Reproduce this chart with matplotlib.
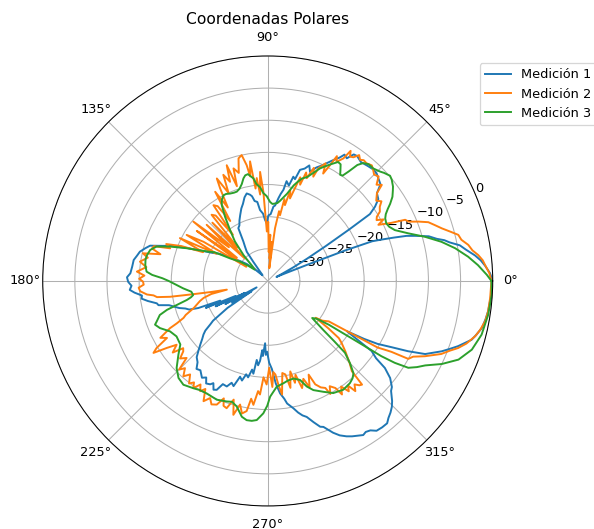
import numpy as np
import matplotlib
matplotlib.use("Agg")
import matplotlib.pyplot as plt

# Radiation pattern measurements (angle in degrees, normalised level in dB)
theta_m1 = [0, 2, 4, 5.5, 7, 9, 10.5, 12, 13, 14, 15.5, 17, 18, 19, 20, 20.8, 21.5, 22.3, 23.5, 25,
            26.5, 28, 29.5, 31, 32.3, 33.2, 34.7, 36.5, 38.8, 40.6, 42.4, 44.6, 46.4, 49.1, 51.9, 54.4,
            55.8, 57.2, 58.7, 59.8, 61.5, 63.4, 65, 66.8, 68.8, 70.2, 71.8, 73.8, 75, 76.2, 77.5, 79.3,
            80.2, 81.5, 82.6, 84.4, 85.6, 87.5, 89.4, 91, 92.5, 94, 96.2, 97.5, 99.3, 100.5, 101.6,
            103.5, 105.5, 107.8, 110, 112.7, 115, 117, 119.1, 121.7, 123.5, 125.6, 127, 129.4, 132, 135,
            138, 141, 144, 146, 148.5, 151, 153, 155.5, 158, 160, 161.5, 163.3, 165, 167.1, 169, 171.1,
            174, 176.8, 178.5, 180.4, 182, 183.7, 185, 186.6, 188, 189.5, 191.4, 192.5, 193.8, 195.5,
            197, 198.5, 200, 201.3, 202.5, 203.5, 205, 206, 207.5, 208.5, 210, 211.5, 212.5, 213.8,
            215.2, 216, 217.1, 218.5, 219.8, 221.5, 223.3, 225, 227, 229.2, 231, 233, 235.8, 237.5, 239,
            240.9, 242, 243.5, 244.9, 246.5, 248.8, 250.5, 252, 253.9, 255.5, 257, 258.5, 260, 261.2,
            262.1, 263.5, 264.5, 265.5, 266.3, 267.6, 268.5, 269.5, 271, 272.7, 274.5, 276.3, 278, 279,
            281.4, 283, 284.5, 286, 288, 289.8, 290.9, 292.5, 293.3, 295, 296.9, 298.5, 300, 301.8, 303,
            304.5, 306, 308, 310, 311.4, 313, 314.6, 316, 318.3, 319.5, 321.6, 323.4, 324.5, 326, 327.6,
            329, 330.2, 331.9, 333.4, 335.1, 336.5, 338, 339.5, 341.1, 343.9, 345.5, 347.6, 350, 352.2,
            356, 360]
db_m1 = [0.0, -0.4, -1.1, -1.7, -2.5, -3.8, -4.6, -6.1, -6.8, -7.9, -9.0, -11.0, -12.3, -14.3, -16.2,
         -17.6, -22.0, -28.5, -32.0, -33.5, -32.5, -30.5, -28.0, -24.5, -20.0, -16.0, -14.7, -13.6,
         -13.2, -11.9, -11.6, -11.2, -11.1, -11.3, -11.5, -11.1, -11.2, -12.3, -12.0, -12.8, -13.6,
         -14.5, -15.2, -15.8, -16.8, -15.9, -16.6, -17.0, -18.6, -18.3, -19.8, -19.2, -20.6, -21.3,
         -22.0, -23.2, -23.4, -24.6, -24.8, -26.0, -25.5, -24.5, -23.9, -22.6, -22.4, -21.6, -21.3,
         -21.0, -21.5, -22.4, -23.0, -23.9, -24.6, -25.3, -25.6, -27.8, -28.6, -29.4, -31.3, -33.1,
         -33.8, -33.4, -32.2, -30.8, -29.8, -29.0, -27.6, -26.2, -25.4, -23.6, -21.2, -19.0, -17.8,
         -15.9, -15.3, -14.6, -14.3, -13.9, -13.8, -13.6, -13.1, -13.3, -13.8, -13.5, -14.2, -15.3,
         -15.2, -16.1, -17.4, -17.6, -19.2, -20.0, -20.6, -21.5, -22.0, -23.4, -27.0, -24.5, -29.5,
         -26.0, -31.0, -27.5, -33.0, -28.5, -32.0, -27.5, -25.9, -24.5, -23.8, -22.6, -22.0, -21.4,
         -20.6, -19.8, -18.8, -18.3, -17.4, -17.6, -16.8, -17.2, -16.4, -16.6, -17.0, -16.1, -16.3,
         -17.5, -17.4, -18.2, -17.8, -19.5, -19.0, -20.1, -19.7, -21.0, -20.4, -22.6, -21.8, -22.5,
         -24.2, -23.3, -25.3, -23.5, -24.0, -22.3, -21.3, -19.0, -17.4, -16.5, -15.7, -14.8, -14.0,
         -13.4, -13.0, -11.9, -10.9, -10.7, -9.8, -9.3, -8.5, -7.9, -7.5, -7.2, -6.8, -7.0, -6.8,
         -6.2, -6.1, -6.1, -6.6, -7.0, -7.5, -8.1, -9.3, -9.6, -10.7, -12.3, -14.3, -15.5, -20.4,
         -17.5, -15.3, -13.1, -10.6, -8.0, -7.0, -5.8, -4.8, -3.7, -2.0, -1.5, -0.9, -0.6, -0.4,
         -0.2, 0.0]

theta_m2 = [0, 2, 4.2, 5.5, 7, 8.5, 10.2, 12, 13.6, 15, 16.8, 18.5, 20.1, 21.5, 22.8, 24, 25.2, 26.9,
            28, 29.2, 30.5, 31.7, 33.5, 35, 36.5, 38.8, 40.1, 41.5, 43.3, 45, 46.4, 48, 50, 51.5, 52.7,
            54, 55.3, 56.5, 57.5, 58.3, 60, 61, 61.7, 62.7, 63.8, 65.8, 66.4, 67.8, 69.2, 70.5, 71.4,
            72.6, 74, 74.9, 76, 77.2, 78.5, 79.4, 80.8, 82.1, 83, 84.2, 85.5, 86.8, 88, 89.5, 91, 92.8,
            94, 95, 96.1, 97.5, 98.4, 99.5, 100.3, 101.7, 103.4, 105, 106.9, 108, 109.5, 110.8, 112.7,
            114, 116.4, 117.2, 118.5, 120.5, 122, 123.8, 125.6, 127, 128.5, 130.3, 132, 133.5, 135.5,
            137.4, 139, 141.4, 143, 144.8, 146.5, 148.6, 150.4, 152, 154, 156, 158, 160, 161.5, 163,
            164.3, 166, 167.5, 169, 171.4, 173.5, 175.9, 177.5, 179, 180.3, 181.7, 183, 184.6, 186.4,
            187.2, 188.3, 189.2, 190, 191, 192, 193, 194.8, 196.5, 198.4, 200, 201.3, 202.5, 203.7, 205,
            205.8, 207, 207.9, 209.5, 211.1, 212.2, 213.6, 215, 217, 218.5, 219.8, 221.5, 223.5, 225,
            226.5, 228.5, 230.3, 232.5, 234, 235.2, 237, 238.5, 240, 241.9, 243.8, 245.5, 247.6, 249.5,
            250.5, 252.1, 254, 255.6, 257.4, 259, 260.8, 262, 263.4, 265, 266.1, 267.5, 269.4, 271,
            272.5, 273.5, 274.7, 276, 277.2, 279, 280.7, 282, 284, 285, 286.5, 287.8, 290, 291.5, 293.6,
            294.7, 296.5, 298.3, 299, 300.5, 302.3, 303.2, 304.8, 306.3, 307.5, 308.5, 310, 311.3,
            312.3, 313, 315, 317.8, 320, 321.2, 322, 322.5, 324, 326.5, 327.5, 328.2, 328.8, 329.5,
            330.2, 331, 332.5, 334.4, 336, 337.2, 339, 340.6, 342.5, 345.1, 347, 349.5, 352, 355.6, 360]
db_m2 = [-0.2, -0.5, -1.1, -1.4, -2.0, -2.8, -3.3, -4.2, -4.5, -5.5, -6.7, -7.6, -8.4, -9.8, -11.2,
         -11.6, -13.8, -15.7, -14.6, -15.6, -15.3, -14.5, -14.1, -13.4, -14.0, -13.2, -11.8, -12.4,
         -11.3, -11.6, -11.2, -10.8, -11.1, -11.0, -11.3, -10.8, -11.6, -11.8, -11.0, -12.6, -13.6,
         -12.8, -14.5, -16.2, -14.6, -15.8, -17.3, -16.0, -17.9, -17.1, -19.2, -18.1, -20.5, -21.7,
         -20.5, -22.9, -22.0, -24.6, -24.0, -26.7, -33.0, -28.9, -31.5, -27.8, -30.5, -25.8, -27.3,
         -21.1, -18.0, -21.5, -18.9, -20.5, -16.2, -18.5, -16.7, -15.0, -15.4, -17.6, -16.7, -19.5,
         -15.9, -18.5, -17.1, -20.0, -17.2, -18.8, -22.0, -18.9, -24.0, -21.0, -20.5, -26.0, -22.0,
         -21.5, -28.0, -22.5, -30.0, -22.1, -27.0, -20.2, -29.0, -21.5, -31.0, -23.3, -20.5, -26.0,
         -19.8, -24.0, -20.5, -18.2, -19.0, -16.5, -16.3, -17.8, -15.1, -16.0, -14.9, -16.0, -14.6,
         -15.8, -15.0, -15.6, -15.7, -14.9, -15.1, -16.1, -17.1, -17.6, -19.6, -23.0, -26.0, -28.5,
         -26.0, -24.7, -24.0, -23.4, -22.8, -22.0, -21.2, -20.7, -19.4, -18.1, -17.0, -16.1, -17.0,
         -14.8, -14.0, -16.2, -17.7, -16.5, -18.2, -17.9, -16.8, -17.6, -15.5, -16.3, -15.2, -16.1,
         -14.9, -15.5, -14.7, -15.8, -14.9, -15.6, -13.8, -14.7, -13.9, -14.2, -15.5, -14.4, -14.2,
         -15.8, -13.5, -15.3, -14.0, -14.5, -16.5, -15.6, -17.8, -17.3, -20.0, -18.9, -21.5, -18.5,
         -20.8, -20.4, -18.6, -17.2, -20.5, -20.2, -18.0, -20.5, -18.6, -19.8, -17.5, -18.8, -17.2,
         -19.1, -17.3, -16.5, -16.1, -14.9, -16.0, -15.3, -13.9, -15.0, -13.7, -14.5, -13.1, -14.0,
         -13.4, -13.2, -15.8, -17.0, -18.7, -20.0, -20.8, -23.0, -25.6, -24.5, -23.6, -21.0, -18.5,
         -15.0, -14.0, -12.8, -10.0, -9.5, -7.9, -6.7, -5.7, -4.7, -3.6, -2.6, -1.6, -1.1, -0.6,
         -0.4, -0.3, -0.2]

theta_m3 = [0, 1.6, 4.3, 6.9, 9.9, 12.7, 15.7, 18.7, 21.8, 24, 25.9, 28, 29.5, 31, 32.2, 34, 35.8, 37,
            39.2, 40.7, 42.9, 44.2, 46.8, 49.2, 51, 52.3, 53.5, 54.6, 55.7, 56.7, 58, 59.4, 61.7, 63,
            65.1, 67, 69.2, 71.5, 73, 74.8, 77.5, 80, 81.3, 83, 84.6, 86.5, 88.3, 90.7, 92.9, 94.6, 96.7,
            97.9, 99.6, 100.5, 102, 103.3, 105, 107, 109.1, 111, 113.3, 115.5, 117.3, 119.5, 121.2,
            123.6, 126.4, 129.7, 133.1, 136, 139, 142, 145, 149, 151.6, 153.5, 155.5, 158, 160.6, 162.8,
            165.2, 167.9, 170, 172.6, 175.6, 177, 178.5, 180, 181.4, 183, 185, 188, 190.7, 192, 193.2,
            194.8, 196, 197.5, 200.1, 201.2, 203.6, 207.3, 211.3, 216, 219.5, 223.7, 227.4, 230.9,
            235.3, 238, 241.5, 246.8, 251.2, 253.5, 256.1, 259.2, 261.4, 263.5, 265.5, 268.1, 269.8,
            271.2, 274.9, 278.7, 281.5, 284.8, 288.1, 290.3, 292.7, 296.7, 300.3, 304.8, 308.8, 311,
            312.9, 315, 317.1, 317.8, 318.6, 320.2, 322.3, 324.4, 325.5, 326.2, 326.5, 327.2, 328.3,
            330, 331.8, 334.5, 337.6, 341.4, 345.9, 351.3, 356.5, 360]
db_m3 = [-0.2, -0.9, -2.2, -3.6, -5.4, -7.3, -9.6, -11.9, -13.7, -14.3, -14.5, -14.3, -13.9, -13.2,
         -12.5, -11.6, -11.0, -10.6, -10.1, -9.9, -10.3, -10.6, -11.0, -11.0, -11.4, -12.2, -13.8,
         -14.9, -15.0, -14.4, -13.6, -13.5, -14.4, -14.9, -15.7, -16.7, -17.7, -18.2, -18.8, -19.6,
         -21.1, -22.0, -22.4, -22.8, -22.9, -23.0, -22.7, -21.8, -21.3, -20.4, -19.8, -18.9, -18.4,
         -18.1, -18.2, -18.6, -19.4, -20.0, -20.3, -20.3, -20.2, -20.0, -20.0, -20.5, -21.2, -23.0,
         -25.1, -27.0, -29.5, -31.6, -32.3, -31.2, -29.8, -28.2, -25.6, -24.8, -23.6, -21.4, -18.9,
         -16.9, -16.1, -15.8, -15.7, -15.8, -16.1, -17.0, -18.6, -19.6, -20.3, -21.0, -21.8, -23.0,
         -23.2, -22.8, -22.1, -20.4, -18.7, -17.4, -16.6, -16.2, -16.7, -17.9, -18.4, -18.2, -17.0,
         -15.4, -14.5, -14.2, -14.7, -15.0, -15.1, -14.9, -15.2, -15.4, -14.9, -13.5, -13.1, -13.1,
         -13.3, -14.4, -15.6, -17.0, -18.5, -18.9, -19.2, -19.3, -18.8, -17.5, -16.6, -15.7, -14.8,
         -14.4, -14.6, -14.9, -15.4, -16.9, -18.6, -21.0, -23.5, -26.0, -25.4, -23.3, -19.9, -16.2,
         -13.8, -11.5, -9.3, -8.2, -7.2, -5.0, -2.9, -1.5, -0.7, -0.3, -0.1, -0.2]

series_labels = ["Medición 1", "Medición 2", "Medición 3"]
radial_ticks = [-30, -25, -20, -15, -10, -5, 0]
r_limits = (-35, 0)

fig = plt.figure(figsize=(6.4, 5.7), dpi=594 / 6.4)
ax = fig.add_axes([0.0719, 0.0435, 0.7576, 0.8507], projection="polar")

for th, db, lab in zip([theta_m1, theta_m2, theta_m3], [db_m1, db_m2, db_m3], series_labels):
    ax.plot(np.deg2rad(th), db, label=lab)

ax.set_rlim(*r_limits)
ax.set_rticks(radial_ticks)
ax.set_title("Coordenadas Polares")
ax.legend(loc="upper left", bbox_to_anchor=(0.8075, 0.881),
          bbox_transform=fig.transFigure, borderaxespad=0)

fig.savefig("out.png", dpi=fig.dpi)
